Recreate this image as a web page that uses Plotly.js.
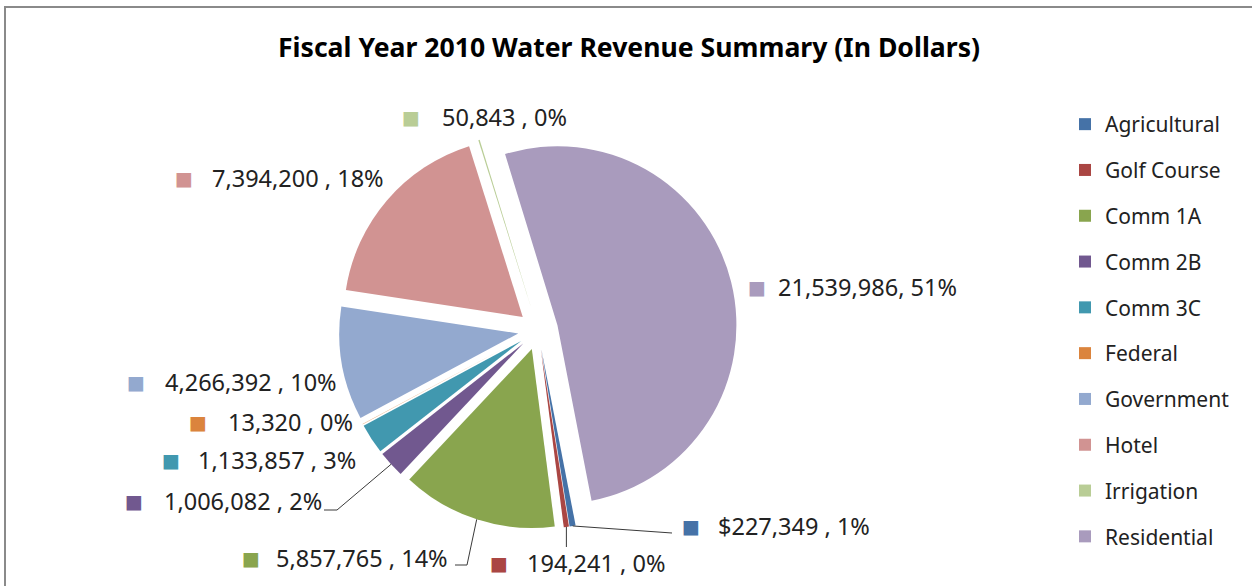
<!DOCTYPE html>
<html>
<head>
<meta charset="utf-8">
<script src="https://cdn.plot.ly/plotly-3.0.1.min.js"></script>
<style>
  html, body { margin: 0; padding: 0; background: #ffffff; overflow: hidden; }
  #chart { position: absolute; left: 0; top: 0; width: 1252px; height: 586px; }
  #frame { position: absolute; left: 4px; top: 6px; width: 1300px; height: 640px;
           border-top: 2.5px solid #8a8a8a; border-left: 2.5px solid #8a8a8a;
           pointer-events: none; }
</style>
</head>
<body>
<div id="chart"></div>
<div id="frame"></div>
<script>
// ---- data ----
var categories = ['Agricultural', 'Golf Course', 'Comm 1A', 'Comm 2B', 'Comm 3C',
                  'Federal', 'Government', 'Hotel', 'Irrigation', 'Residential'];
var revenue = [227349, 194241, 5857765, 1006082, 1133857,
               13320, 4266392, 7394200, 50843, 21539986];
var percentLabels = ['1%', '0%', '14%', '2%', '3%', '0%', '10%', '18%', '0%', '51%'];
var valuePrefix = ['$', '', '', '', '', '', '', '', '', ''];
var labelSeparator = [' , ', ' , ', ' , ', ' , ', ' , ', ' , ', ' , ', ' , ', ' , ', ', '];
var sliceColors = ['#4572A7', '#AA4643', '#89A54E', '#71588F', '#4198AF',
                   '#DB843D', '#93A9CF', '#D19392', '#B9CD96', '#A99BBD'];

// ---- layout constants (pixels) ----
var W = 1252, H = 586;
var FONT = 'Noto Sans, Open Sans, DejaVu Sans, sans-serif';
var NB = '\u00A0';
var PULL = 0.112;
var START_ANGLE = 169;               // degrees clockwise from 12 o'clock
var pieBox = { x0: 339, x1: 737, y0: 131, y1: 529 };
// data-label placement: [square centre x, text left x, centre y]
var labelPlace = [
  [691, 716, 526], [499, 525, 563], [251, 274, 558], [134, 162, 501], [171, 196, 460],
  [198, 226, 422], [136, 163, 382], [184, 210, 178], [411, 440, 117], [757, 776, 287]
];
// leader-line bends for the crowded labels: index -> list of points after the slice edge
var leaderBends = { 0: [[672, 533]], 1: [[null, 547]], 2: [[467, 565], [455, 565]], 3: [[337, 510], [324, 510]] };

function px(x) { return x / W; }
function py(y) { return 1 - y / H; }

var pie = {
  type: 'pie',
  labels: categories,
  values: revenue,
  textinfo: 'none',
  marker: { colors: sliceColors, line: { width: 0 } },
  sort: false,
  direction: 'clockwise',
  rotation: START_ANGLE,
  pull: categories.map(function () { return PULL; }),
  domain: { x: [px(pieBox.x0), px(pieBox.x1)], y: [py(pieBox.y1), py(pieBox.y0)] },
  showlegend: false,
  hoverinfo: 'label+value+percent'
};

// legend entries (one per category) so the entries can be spaced like the original
var legendTraces = categories.map(function (c, i) {
  return {
    type: 'scatter', mode: 'markers',
    x: [null], y: [null],
    name: c, legendgroup: c,
    marker: { symbol: 'square', size: 12, color: sliceColors[i] },
    hoverinfo: 'skip', showlegend: true
  };
});

// data labels as annotations
var annotations = [];
categories.forEach(function (c, i) {
  var p = labelPlace[i];
  annotations.push({
    xref: 'paper', yref: 'paper', x: px(p[0]), y: py(p[2]),
    xanchor: 'center', yanchor: 'middle', showarrow: false,
    text: '\u25A0', font: { family: 'DejaVu Sans', size: 19, color: sliceColors[i] }
  });
  annotations.push({
    xref: 'paper', yref: 'paper', x: px(p[1]), y: py(p[2]),
    xanchor: 'left', yanchor: 'middle', showarrow: false,
    text: valuePrefix[i] + revenue[i].toLocaleString('en-US') +
          labelSeparator[i].replace(/ /g, NB) + percentLabels[i],
    font: { family: FONT, size: 23.5, color: '#222222' }
  });
});

// leader lines from the (exploded) slice edge, computed from the values
var total = revenue.reduce(function (a, b) { return a + b; }, 0);
var cx = (pieBox.x0 + pieBox.x1) / 2, cy = (pieBox.y0 + pieBox.y1) / 2;
var outerR = (pieBox.x1 - pieBox.x0) / 2;          // r * (1 + pull)
var shapes = [];
var cum = 0;
revenue.forEach(function (v, i) {
  var mid = (START_ANGLE + 360 * (cum + v / 2) / total) * Math.PI / 180;
  cum += v;
  if (!leaderBends[i]) return;
  var sx = cx + outerR * Math.sin(mid), sy = cy - outerR * Math.cos(mid);
  var d = 'M' + px(sx) + ',' + py(sy);
  leaderBends[i].forEach(function (pt) {
    var x = pt[0] === null ? sx : pt[0];
    d += ' L' + px(x) + ',' + py(pt[1]);
  });
  shapes.push({ type: 'path', xref: 'paper', yref: 'paper', path: d,
                line: { color: '#3a3a3a', width: 1 } });
});

var layout = {
  width: W, height: H,
  margin: { l: 0, r: 0, t: 0, b: 0 },
  paper_bgcolor: '#ffffff', plot_bgcolor: '#ffffff',
  title: {
    text: '<b>Fiscal Year 2010 Water Revenue Summary (In Dollars)</b>',
    font: { family: FONT, size: 26.6, color: '#000000' },
    x: px(629), xanchor: 'center',
    y: py(48), yanchor: 'middle'
  },
  xaxis: { visible: false },
  yaxis: { visible: false },
  showlegend: true,
  legend: {
    x: px(1065), xanchor: 'left',
    y: py(104), yanchor: 'top',
    font: { family: FONT, size: 21, color: '#222222' },
    traceorder: 'grouped',
    tracegroupgap: 15.5,
    bgcolor: 'rgba(0,0,0,0)'
  },
  annotations: annotations,
  shapes: shapes
};

Plotly.newPlot('chart', [pie].concat(legendTraces), layout, { displayModeBar: false, staticPlot: true });
</script>
</body>
</html>
